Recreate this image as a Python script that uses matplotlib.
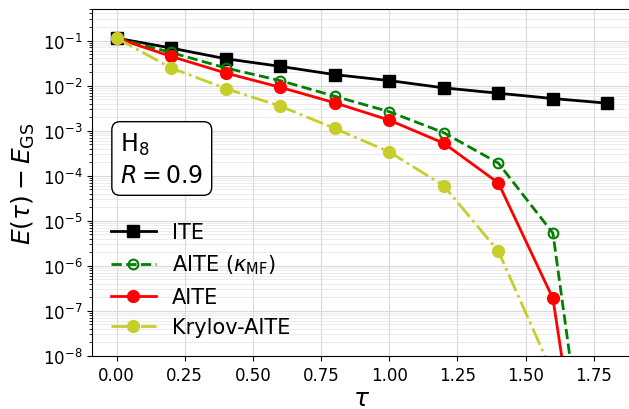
import numpy as np
import matplotlib
matplotlib.use("Agg")
import matplotlib.pyplot as plt

# imaginary time steps
tau = [0.0, 0.2, 0.4, 0.6, 0.8, 1.0, 1.2, 1.4, 1.6, 1.8]

# energy error E(tau) - E_GS
err_ite = [0.113, 0.068, 0.0394, 0.0267, 0.0175, 0.0129, 0.0089, 0.00676, 0.00516, 0.00406]
err_aite_mf = [0.113, 0.0543, 0.0246, 0.0129, 0.0058, 0.00263, 9.0e-4, 1.9e-4, 5.3e-6, 8e-15]
err_aite = [0.113, 0.0444, 0.019, 0.00917, 0.00415, 1.71e-3, 5.25e-4, 6.9e-5, 1.89e-7, 2e-15]
tau_krylov = [0.0, 0.2, 0.4, 0.6, 0.8, 1.0, 1.2, 1.4, 1.6]
err_krylov = [0.113, 0.0246, 0.0086, 3.5e-3, 1.12e-3, 3.37e-4, 6.0e-5, 2.1e-6, 4e-9]

fig = plt.figure(figsize=(6.29, 4.10), dpi=100)
ax = fig.add_axes([0.1463, 0.1293, 0.8585, 0.8463])

ax.plot(tau, err_ite, color="black", marker="s", ms=8, lw=2, label="ITE")
ax.plot(tau, err_aite_mf, color="green", marker="o", ms=7, mfc="none", mew=1.5,
        ls="--", lw=2, label=r"AITE ($\kappa_{\rm MF}$)")
ax.plot(tau, err_aite, color="red", marker="o", ms=8.5, lw=2, label="AITE")
ax.plot(tau_krylov, err_krylov, color="#c6ce2a", marker="o", ms=8.5, ls="-.", lw=2,
        label="Krylov-AITE")

ax.set_yscale("log")
ax.set_ylim(1e-8, 0.5)
ax.set_xlim(-0.09, 1.89)
ax.set_xticks([0.0, 0.25, 0.5, 0.75, 1.0, 1.25, 1.5, 1.75])
ax.yaxis.set_major_locator(matplotlib.ticker.LogLocator(base=10, numticks=20))
ax.yaxis.set_minor_locator(matplotlib.ticker.LogLocator(base=10, subs=np.arange(2, 10), numticks=20))
ax.yaxis.set_minor_formatter(matplotlib.ticker.NullFormatter())
ax.tick_params(labelsize=12)

ax.grid(True, which="major", color="#d8d8d8", lw=0.8)
ax.grid(True, which="minor", axis="y", color="#e4e4e4", lw=0.5)
ax.set_axisbelow(True)

ax.set_xlabel(r"$\tau$", fontsize=18, labelpad=2)
ax.set_ylabel(r"$E(\tau) - E_{\rm GS}$", fontsize=18)

ax.text(0.052, 0.648, "H$_8$\n$R = 0.9$", transform=ax.transAxes, fontsize=17,
        ha="left", va="top", linespacing=1.3,
        bbox=dict(boxstyle="round,pad=0.35", fc="white", ec="black"))

ax.legend(loc="lower left", frameon=False, fontsize=15, handlelength=2.15)

fig.savefig("out.png", dpi=100)
